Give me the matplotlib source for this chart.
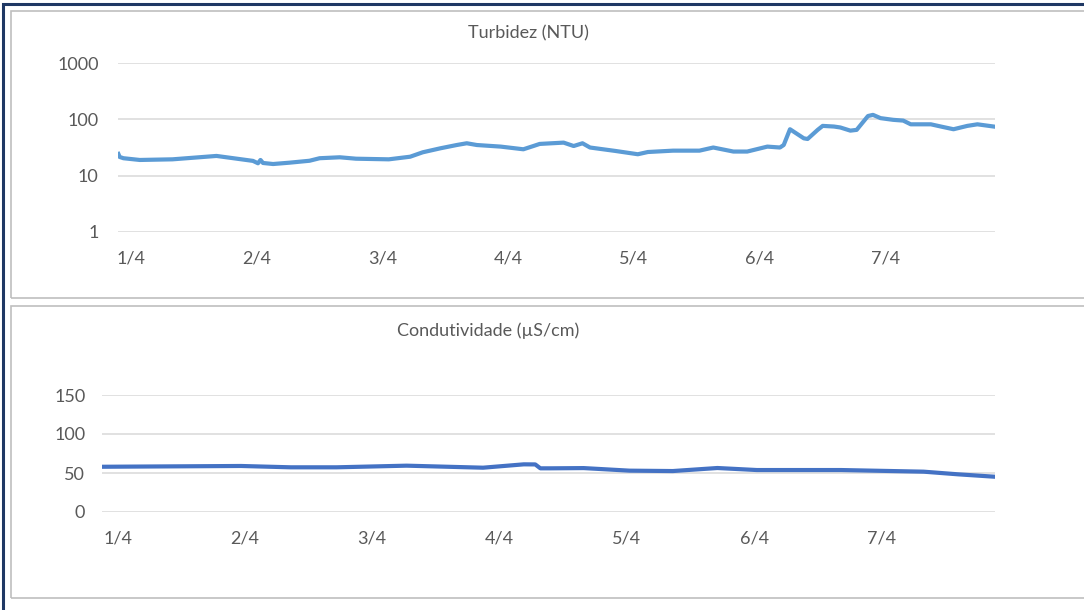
import matplotlib
matplotlib.use("Agg")
import matplotlib.pyplot as plt
from matplotlib.patches import Rectangle
from matplotlib.ticker import FixedLocator, NullLocator

plt.rcParams['font.family'] = ['Lato', 'DejaVu Sans']

# ---- data (days since 1/4) ----
turb_days = [-0.10, -0.09, -0.06, 0.07, 0.33, 0.68, 0.97, 1.01, 1.03, 1.05, 1.13, 1.26, 1.42, 1.50, 1.66,
             1.79, 2.05, 2.22, 2.32, 2.46, 2.59, 2.67, 2.75, 2.94, 3.12, 3.20, 3.25, 3.25, 3.44, 3.52,
             3.59, 3.65, 3.85, 4.03, 4.11, 4.31, 4.52, 4.63, 4.70, 4.79, 4.90, 5.06, 5.16, 5.19, 5.24,
             5.35, 5.38, 5.46, 5.50, 5.59, 5.64, 5.72, 5.77, 5.86, 5.90, 5.96, 6.06, 6.14, 6.20, 6.36,
             6.44, 6.54, 6.65, 6.73, 6.86]
turb_vals = [24.3, 21.5, 20.4, 19.0, 19.5, 22.4, 18.3, 16.6, 19.0, 16.8, 16.1, 17.0, 18.4, 20.4, 21.2,
             20.0, 19.5, 21.7, 26.0, 30.6, 35.0, 37.6, 35.0, 32.8, 29.4, 33.6, 36.6, 36.6, 38.6, 33.6,
             37.6, 31.6, 27.5, 24.0, 26.3, 27.8, 27.8, 31.6, 29.4, 26.8, 26.8, 32.8, 31.6, 35.0, 66.7,
             46.0, 44.8, 65.0, 76.5, 74.5, 71.7, 63.0, 65.0, 114.5, 120.0, 105.0, 98.0, 95.0, 81.6, 81.6,
             74.5, 66.7, 76.5, 81.6, 74.5]

cond_days = [-0.12, 0.97, 1.36, 1.72, 2.27, 2.87, 3.19, 3.28, 3.32, 3.40, 3.66, 4.02, 4.36, 4.71,
             5.02, 5.68, 6.33, 6.60, 6.88]
cond_vals = [58.0, 59.0, 57.3, 57.3, 59.4, 56.8, 61.1, 61.0, 56.0, 56.0, 56.3, 53.0, 52.5, 56.4,
             53.8, 53.8, 51.7, 48.3, 45.3]

tick_pos = [0, 1, 2, 3, 4, 5, 6]
tick_labels = ['1/4', '2/4', '3/4', '4/4', '5/4', '6/4', '7/4']
turb_yticks = [1, 10, 100, 1000]
cond_yticks = [0, 50, 100, 150]

W, H = 1084, 610
fig = plt.figure(figsize=(W / 100, H / 100), dpi=100)

def fx(x):
    return x / W

def fy(y):
    return 1 - y / H

# frames
fig.add_artist(Rectangle((fx(3), fy(640)), fx(1200), fy(4) - fy(640), transform=fig.transFigure,
                         fill=False, edgecolor='#1F3864', linewidth=2.2))
fig.add_artist(Rectangle((fx(11), fy(298)), fx(1200), fy(11) - fy(298), transform=fig.transFigure,
                         fill=False, edgecolor='#BFBFBF', linewidth=1.2))
fig.add_artist(Rectangle((fx(11), fy(598)), fx(1200), fy(306) - fy(598), transform=fig.transFigure,
                         fill=False, edgecolor='#BFBFBF', linewidth=1.2))

grey = '#595959'
FS = 13

def style(ax):
    for s in ax.spines.values():
        s.set_visible(False)
    ax.grid(axis='y', color='#D9D9D9', linewidth=1.1)
    ax.set_axisbelow(True)
    ax.tick_params(axis='both', length=0, colors=grey, labelsize=FS)
    ax.xaxis.set_major_locator(FixedLocator(tick_pos))
    ax.set_xticklabels(tick_labels)

# top axes
ax1 = fig.add_axes([fx(118), fy(232), fx(995) - fx(118), fy(63) - fy(232)])
ax1.plot(turb_days, turb_vals, color='#5B9BD5', linewidth=3.0, solid_joinstyle='round')
ax1.set_yscale('log')
ax1.set_ylim(1, 1000)
ax1.set_xlim(-0.103, 6.87)
style(ax1)
ax1.yaxis.set_major_locator(FixedLocator(turb_yticks))
ax1.yaxis.set_minor_locator(NullLocator())
ax1.set_yticklabels([str(v) for v in turb_yticks])
ax1.tick_params(axis='x', pad=13)
ax1.tick_params(axis='y', pad=14)
fig.text(fx(528), fy(33), 'Turbidez (NTU)', ha='center', va='center', color=grey, fontsize=FS)

# bottom axes
ax2 = fig.add_axes([fx(102), fy(512), fx(995) - fx(102), fy(395) - fy(512)])
ax2.plot(cond_days, cond_vals, color='#4472C4', linewidth=3.0, solid_joinstyle='round')
ax2.set_ylim(0, 150)
ax2.set_xlim(-0.122, 6.89)
style(ax2)
ax2.yaxis.set_major_locator(FixedLocator(cond_yticks))
ax2.set_yticklabels([str(v) for v in cond_yticks])
ax2.tick_params(axis='x', pad=13)
ax2.tick_params(axis='y', pad=12)
fig.text(fx(488), fy(331), 'Condutividade (µS/cm)', ha='center', va='center', color=grey, fontsize=FS)

fig.savefig('out.png', dpi=100)
